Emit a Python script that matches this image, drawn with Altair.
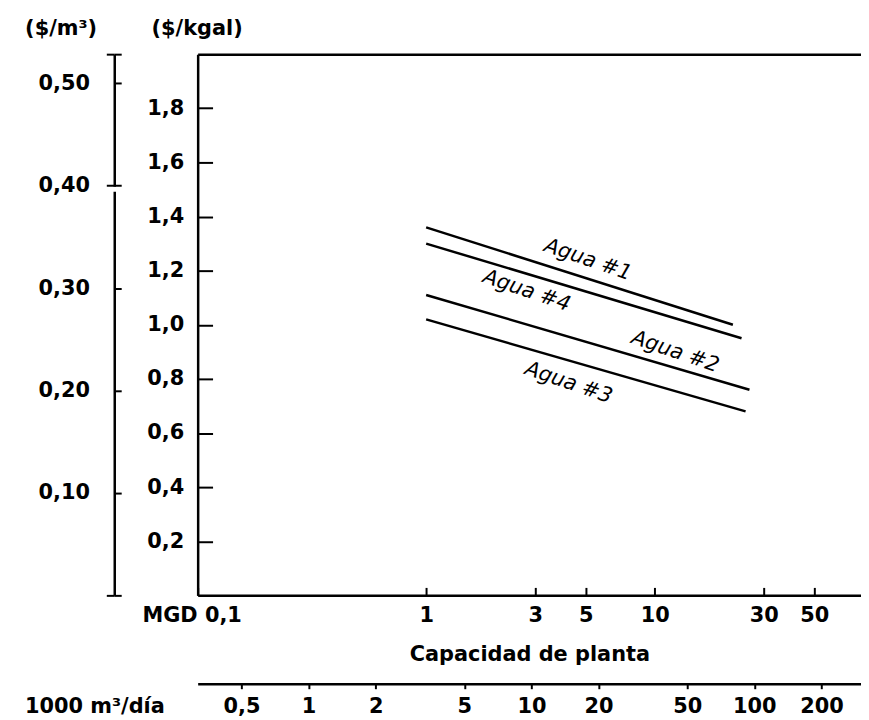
import altair as alt
import pandas as pd

# ---- data ----
series = ["Agua #1", "Agua #4", "Agua #2", "Agua #3"]
mgd_start = [1.0, 1.0, 1.0, 1.0]
mgd_end = [22.0, 24.0, 26.0, 25.0]
cost_start = [1.36, 1.30, 1.11, 1.02]   # $/kgal
cost_end = [1.00, 0.95, 0.76, 0.68]     # $/kgal

label_text = ["Agua #1", "Agua #4", "Agua #2", "Agua #3"]
label_mgd = [5.1, 2.75, 12.3, 4.2]
label_cost = [1.24, 1.125, 0.90, 0.785]

kgal_ticks = [0.2, 0.4, 0.6, 0.8, 1.0, 1.2, 1.4, 1.6, 1.8]
m3_ticks = [0.10, 0.20, 0.30, 0.40, 0.50]
mgd_ticks = [0.1, 1, 3, 5, 10, 30, 50]
m3day_ticks = [0.5, 1, 2, 5, 10, 20, 50, 100, 200]

mgd_domain = [0.1, 80]
kgal_domain = [0, 2.0]
m3_domain = [0, 2.0 * 0.2642]
m3_caps = [m3_domain[0], 0.40, m3_domain[1]]
m3day_domain = [0.318, 301]

FONT = "DejaVu Sans"
W, H = 668, 545

rows = []
for s, x0, x1, y0, y1 in zip(series, mgd_start, mgd_end, cost_start, cost_end):
    rows.append({"serie": s, "mgd": x0, "kgal": y0})
    rows.append({"serie": s, "mgd": x1, "kgal": y1})
lines_df = pd.DataFrame(rows)
labels_df = pd.DataFrame({"text": label_text, "mgd": label_mgd, "kgal": label_cost})
m3_df = pd.DataFrame({"m3": m3_ticks, "mgd": [mgd_domain[0]] * len(m3_ticks)})
caps_df = pd.DataFrame({"m3": m3_caps})
m3day_df = pd.DataFrame({"q": m3day_ticks})


def xs():
    return alt.Scale(type="log", domain=mgd_domain, nice=False)


def ys():
    return alt.Scale(domain=kgal_domain, nice=False, zero=False)


def m3s():
    return alt.Scale(domain=m3_domain, nice=False, zero=False)


lines = alt.Chart(lines_df).mark_line(color="black", strokeWidth=2.5).encode(
    x=alt.X("mgd:Q", scale=xs(), axis=alt.Axis(
        orient="bottom", values=mgd_ticks,
        labelExpr="datum.value < 0.2 ? 'MGD 0,1' : replace(format(datum.value, '~g'), '.', ',')",
        tickSize={"expr": "-8"}, labelPadding=34, labelBaseline="alphabetic",
        labelAlign={"condition": {"test": "datum.value < 0.2", "value": "right"}, "value": "center"},
        labelOffset={"condition": {"test": "datum.value < 0.2", "value": 44}, "value": 0},
        labelFlush=False, labelOverlap=False,
        title="Capacidad de planta", titleY=66, titleBaseline="alphabetic")),
    y=alt.Y("kgal:Q", scale=ys(), axis=alt.Axis(
        orient="left", values=kgal_ticks,
        labelExpr="replace(format(datum.value, '.1f'), '.', ',')",
        tickSize={"expr": "-15"}, labelPadding=29, labelBaseline="middle",
        title="($/kgal)", titleAngle=0, titleX=-1, titleY=-20,
        titleAlign="center", titleBaseline="alphabetic")),
    detail="serie:N",
)

# $/m3 scale: labels + short ticks to the right, broken axis line at 0,40
m3_layer = alt.Chart(m3_df).mark_point(opacity=0).encode(
    x=alt.X("mgd:Q", scale=xs(), axis=alt.Axis(
        orient="top", labels=False, ticks=False, domain=True, title=None)),
    y=alt.Y("m3:Q", scale=m3s(), axis=alt.Axis(
        orient="left", offset=84, values=m3_ticks + [m3_domain[1], m3_domain[0]],
        labelExpr="datum.value > 0.52 || datum.value < 0.05 ? '' : replace(format(datum.value, '.2f'), '.', ',')",
        tickSize={"expr": "-7"}, labelPadding=32, labelBaseline="middle",
        domainDash=[407, 5, 200],
        title="($/m³)", titleAngle=0, titleX=-54, titleY=-20,
        titleAlign="center", titleBaseline="alphabetic")),
)

# end caps of the $/m3 scale (left halves)
caps_layer = alt.Chart(caps_df).mark_point(opacity=0).encode(
    y=alt.Y("m3:Q", scale=m3s(), axis=alt.Axis(
        orient="left", offset=84, values=m3_caps, labels=False, domain=False,
        tickSize=8, title=None)),
)

m3day_layer = alt.Chart(m3day_df).mark_point(opacity=0).encode(
    x=alt.X("q:Q", scale=alt.Scale(type="log", domain=m3day_domain, nice=False), axis=alt.Axis(
        orient="bottom", offset=89, values=m3day_ticks,
        labelExpr="replace(format(datum.value, '~g'), '.', ',')",
        tickSize=5, labelPadding=24, labelBaseline="alphabetic",
        labelFlush=False, labelOverlap=False,
        title="1000 m³/día", titleX=-104, titleY=29,
        titleAlign="center", titleBaseline="alphabetic")),
)

text_layer = alt.Chart(labels_df).mark_text(
    font=FONT, fontSize=21, fontStyle="italic", angle=19, color="black",
    align="center", baseline="middle",
).encode(
    x=alt.X("mgd:Q", scale=xs(), axis=None),
    y=alt.Y("kgal:Q", scale=ys(), axis=None),
    text="text:N",
)

chart = alt.layer(lines, m3_layer, caps_layer, m3day_layer, text_layer).resolve_scale(
    x="independent", y="independent"
).properties(
    width=W, height=H,
    autosize=alt.AutoSizeParams(type="none"),
    padding={"left": 191, "top": 44, "right": 0, "bottom": 120},
).configure_view(stroke=None).configure_axis(
    grid=False, domainColor="black", domainWidth=2.5, tickColor="black", tickWidth=2,
    labelColor="black", titleColor="black", labelFont=FONT, titleFont=FONT,
    labelFontSize=21, titleFontSize=21, labelFontWeight="bold", titleFontWeight="bold",
)

chart.save("out.html", embed_options={"renderer": "svg", "actions": False})
